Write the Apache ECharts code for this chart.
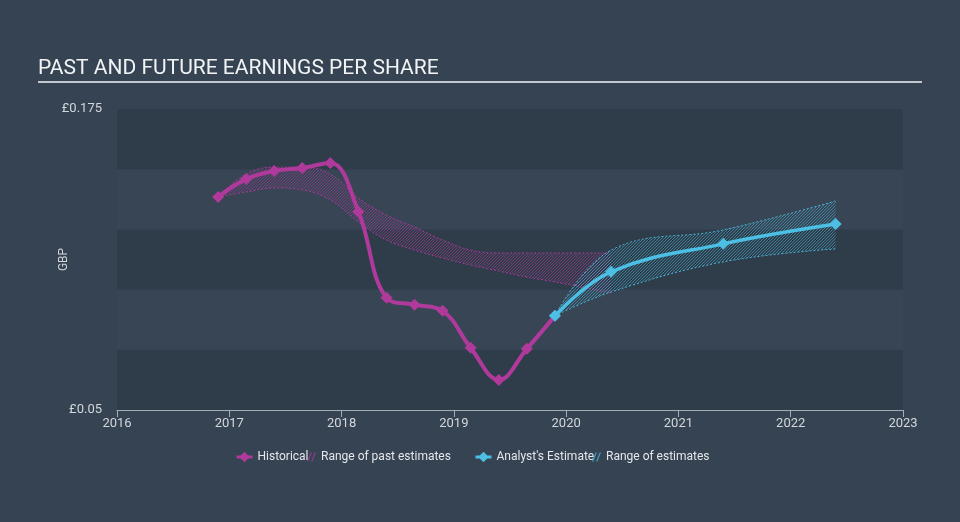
<!DOCTYPE html>
<html>
<head>
<meta charset="utf-8">
<script src="https://cdn.jsdelivr.net/npm/echarts@6/dist/echarts.min.js"></script>
<style>
html,body{margin:0;padding:0;background:#354352;}
#chart{width:960px;height:522px;}
</style>
</head>
<body>
<div id="chart"></div>
<script>
// ---- Data (decimal years, GBP) ----
const histYears = [2016.9, 2017.15, 2017.4, 2017.65, 2017.9, 2018.15, 2018.4, 2018.65, 2018.9, 2019.15, 2019.4, 2019.65, 2019.9];
const historical = [0.1385, 0.1459, 0.1493, 0.1505, 0.1526, 0.1323, 0.0966, 0.0937, 0.0912, 0.0758, 0.0625, 0.0754, 0.0891];

const pastRangeYears = [2016.9, 2017.15, 2017.4, 2017.65, 2017.9, 2018.15, 2018.4, 2018.65, 2018.9, 2019.15, 2019.4, 2019.65, 2019.9, 2020.4];
const pastHigh = [0.1385, 0.1480, 0.1509, 0.1509, 0.1480, 0.1380, 0.1310, 0.1260, 0.1206, 0.1164, 0.1152, 0.1152, 0.1152, 0.1152];
const pastLow  = [0.1385, 0.1405, 0.1422, 0.1414, 0.1372, 0.1281, 0.1206, 0.1164, 0.1131, 0.1102, 0.1077, 0.1052, 0.1032, 0.0986];

const estYears = [2019.9, 2020.4, 2021.4, 2022.4];
const estimate = [0.0891, 0.1074, 0.1190, 0.1272];
const estHigh  = [0.0891, 0.1164, 0.1248, 0.1368];
const estLow   = [0.0891, 0.0990, 0.1115, 0.1169];

const xTicks = [2016, 2017, 2018, 2019, 2020, 2021, 2022, 2023];
const yMin = 0.05, yMax = 0.175, yStep = 0.025;

// ---- Styling ----
const PINK = '#b03a9c';
const BLUE = '#4cc0e4';
const FONT = 'Roboto, "Noto Sans", sans-serif';

function hatch(color) {
  const s = 3;
  const c = document.createElement('canvas');
  c.width = s; c.height = s;
  const g = c.getContext('2d');
  g.strokeStyle = color;
  g.lineWidth = 1;
  g.beginPath();
  g.moveTo(0, s); g.lineTo(s, 0);
  g.moveTo(-1, 1); g.lineTo(1, -1);
  g.moveTo(s - 1, s + 1); g.lineTo(s + 1, s - 1);
  g.stroke();
  return c;
}

const zip = (xs, ys) => xs.map((x, i) => [x, ys[i]]);
// rows as [value, year] so that the stacked dimension is the value (y) dimension
const zipVY = (xs, ys) => xs.map((x, i) => [ys[i], x]);
const diff = (hi, lo) => hi.map((v, i) => +(v - lo[i]).toFixed(5));

const hatchIcon = 'path://M0,10 L4,0 L5.5,0 L1.5,10 Z M4.5,10 L8.5,0 L10,0 L6,10 Z';

const chart = echarts.init(document.getElementById('chart'), null, {renderer: 'canvas'});

function legendText() {
  return {color: '#e4e7ea', fontSize: 12, fontFamily: FONT};
}

const bandEncode = {x: 1, y: 0};

const option = {
  backgroundColor: '#354352',
  animation: false,
  title: {
    text: 'PAST AND FUTURE EARNINGS PER SHARE',
    left: 38, top: 58, padding: 0,
    textStyle: {color: '#f2f3f5', fontSize: 21, fontWeight: 'normal', fontFamily: FONT}
  },
  graphic: [{
    type: 'rect', left: 38, top: 81,
    shape: {width: 884, height: 2},
    style: {fill: '#c3c8ce'}
  }],
  grid: {left: 117, right: 57, top: 109, bottom: 112, containLabel: false},
  legend: [
    {data: ['Historical'], left: 235, top: 451, padding: 0, itemWidth: 16, itemHeight: 13, lineStyle: {width: 3}, textStyle: legendText(), selectedMode: false},
    {data: [{name: 'Range of past estimates', icon: hatchIcon, itemStyle: {color: 'rgba(176,58,156,0.7)'}}], left: 307, top: 451, padding: 0, itemWidth: 9, itemHeight: 9, textStyle: legendText(), selectedMode: false},
    {data: ["Analyst's Estimate"], left: 474, top: 451, padding: 0, itemWidth: 16, itemHeight: 13, lineStyle: {width: 3}, textStyle: legendText(), selectedMode: false},
    {data: [{name: 'Range of estimates', icon: hatchIcon, itemStyle: {color: 'rgba(76,192,228,0.7)'}}], left: 592, top: 451, padding: 0, itemWidth: 9, itemHeight: 9, textStyle: legendText(), selectedMode: false}
  ],
  xAxis: {
    type: 'value', min: xTicks[0], max: xTicks[xTicks.length - 1], interval: 1,
    axisLine: {show: true, lineStyle: {color: '#a3adb8', width: 1}},
    axisTick: {show: true, length: 7, lineStyle: {color: '#a3adb8'}},
    axisLabel: {color: '#d3d7dc', fontSize: 13, fontFamily: FONT, margin: 7, formatter: v => String(Math.round(v))},
    splitLine: {show: false}
  },
  yAxis: {
    type: 'value', min: yMin, max: yMax, interval: yStep,
    name: 'GBP', nameLocation: 'middle', nameGap: 47, nameRotate: 90, nameMoveOverlap: false,
    nameTextStyle: {color: '#d3d7dc', fontSize: 12, fontFamily: FONT},
    axisLine: {show: false}, axisTick: {show: false},
    axisLabel: {
      color: '#d3d7dc', fontSize: 13, fontFamily: FONT, margin: 15,
      formatter: v => {
        if (Math.abs(v - yMin) < 1e-6) return '£0.05';
        if (Math.abs(v - yMax) < 1e-6) return '£0.175';
        return '';
      }
    },
    splitLine: {show: false},
    splitArea: {show: true, areaStyle: {color: ['#2f3c4a', '#374554']}}
  },
  series: [
    {
      name: 'pastLow', type: 'line', stack: 'past', smooth: 0.4, symbol: 'none', silent: true, z: 1,
      data: zipVY(pastRangeYears, pastLow), encode: bandEncode,
      color: PINK,
      lineStyle: {color: PINK, width: 1, type: [2, 2], opacity: 0.85}
    },
    {
      name: 'Range of past estimates', type: 'line', stack: 'past', smooth: 0.4, symbol: 'none', silent: true, z: 1,
      data: zipVY(pastRangeYears, diff(pastHigh, pastLow)), encode: bandEncode,
      color: PINK,
      itemStyle: {color: PINK},
      lineStyle: {color: PINK, width: 1, type: [2, 2], opacity: 0.85},
      areaStyle: {color: {image: hatch('rgba(176,58,156,0.55)'), repeat: 'repeat'}, opacity: 1}
    },
    {
      name: 'estLow', type: 'line', stack: 'est', smooth: 0.4, symbol: 'none', silent: true, z: 2,
      data: zipVY(estYears, estLow), encode: bandEncode,
      color: BLUE,
      lineStyle: {color: BLUE, width: 1, type: [2, 2], opacity: 0.85}
    },
    {
      name: 'Range of estimates', type: 'line', stack: 'est', smooth: 0.4, symbol: 'none', silent: true, z: 2,
      data: zipVY(estYears, diff(estHigh, estLow)), encode: bandEncode,
      color: BLUE,
      itemStyle: {color: BLUE},
      lineStyle: {color: BLUE, width: 1, type: [2, 2], opacity: 0.85},
      areaStyle: {color: {image: hatch('rgba(76,192,228,0.5)'), repeat: 'repeat'}, opacity: 1}
    },
    {
      name: 'Historical', type: 'line', smooth: 0.4, z: 3,
      data: zip(histYears, historical),
      symbol: 'diamond', symbolSize: 12,
      color: PINK,
      itemStyle: {color: PINK},
      lineStyle: {color: PINK, width: 4}
    },
    {
      name: "Analyst's Estimate", type: 'line', smooth: 0.4, z: 4,
      data: zip(estYears, estimate),
      symbol: 'diamond', symbolSize: 12,
      color: BLUE,
      itemStyle: {color: BLUE},
      lineStyle: {color: BLUE, width: 3.5}
    }
  ]
};
chart.setOption(option);
</script>
</body>
</html>
